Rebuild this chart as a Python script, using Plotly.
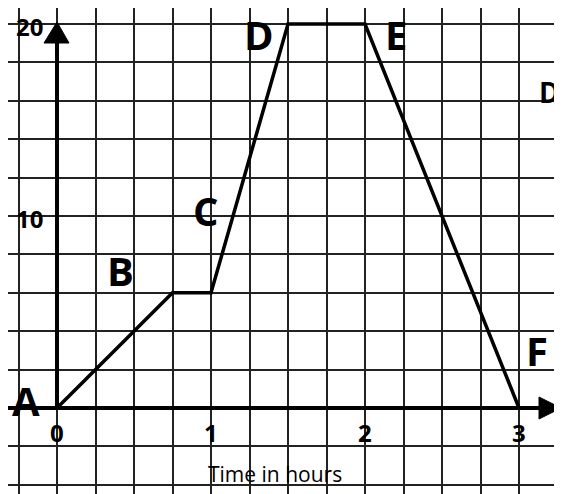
import plotly.graph_objects as go

# ---- data ----
time_h = [0, 0.75, 1, 1.5, 2, 3]
distance = [0, 6, 6, 20, 20, 0]
point_labels = ["A", "B", "C", "D", "E", "F"]
x_ticks = [0, 1, 2, 3]
x_tick_text = ["0", "1", "2", "3"]
y_ticks = [10, 20]
y_tick_text = ["10", "20"]
x_title = "Time in hours"

W, H = 562, 494          # page size
OFF = 8                  # default page body margin
FW, FH = W - OFF, H - OFF
# page-pixel mapping of the drawing (x=0 at px 57, 154 px per hour; y=0 at py 408, 19.2 px per unit)
PX0, PXS = 57, 154.0
PY0, PYS = 408, 19.2
def dx(px):
    return (px - PX0) / PXS
def dy(py):
    return (PY0 - py) / PYS

xr = [dx(OFF), dx(OFF + FW)]
yr = [dy(OFF + FH), dy(OFF)]

LBL = dict(family="Open Sans, DejaVu Sans, sans-serif", color="black", weight="bold")

fig = go.Figure()
fig.add_trace(go.Scatter(x=time_h, y=distance, mode="lines",
                         line=dict(color="black", width=3.5), hoverinfo="skip",
                         showlegend=False))

shapes = []
# axes lines
shapes.append(dict(type="line", xref="x", yref="y", x0=xr[0], x1=dx(541), y0=0, y1=0,
                   line=dict(color="black", width=4)))
shapes.append(dict(type="line", xref="x", yref="y", x0=0, x1=0, y0=0, y1=dy(41),
                   line=dict(color="black", width=4)))
# arrowheads
shapes.append(dict(type="path", xref="x", yref="y",
                   path=f"M {dx(539)},{dy(397)} L {dx(561)},{dy(408)} L {dx(539)},{dy(419)} Z",
                   fillcolor="black", line=dict(color="black", width=1)))
shapes.append(dict(type="path", xref="x", yref="y",
                   path=f"M {dx(44)},{dy(43)} L {dx(57)},{dy(22)} L {dx(69)},{dy(43)} Z",
                   fillcolor="black", line=dict(color="black", width=1)))

annotations = []
offsets = [(-31, 8), (-52, 22), (-5, 82), (-29, -10), (31, -10), (18, 58)]
for xv, yv, t, (sx, sy) in zip(time_h, distance, point_labels, offsets):
    annotations.append(dict(x=xv, y=yv, xref="x", yref="y", text=t, showarrow=False,
                            xshift=sx, yshift=sy, font=dict(size=40, **LBL)))
for xv, t in zip(x_ticks, x_tick_text):
    annotations.append(dict(x=xv, y=0, xref="x", yref="y", text=t, showarrow=False,
                            yshift=-24, font=dict(size=24, **LBL)))
for yv, t in zip(y_ticks, y_tick_text):
    annotations.append(dict(x=0, y=yv, xref="x", yref="y", text=t, showarrow=False,
                            xshift=-28, yshift=-2, font=dict(size=24, **LBL)))
annotations.append(dict(x=dx(275), y=dy(474), xref="x", yref="y", text=x_title,
                        showarrow=False, font=dict(size=21, family="Open Sans, sans-serif",
                                                   color="black")))
annotations.append(dict(x=dx(549), y=dy(92), xref="x", yref="y", text="D",
                        showarrow=False, font=dict(size=28, **LBL)))

fig.update_layout(
    width=FW, height=FH, margin=dict(l=0, r=0, t=0, b=0),
    paper_bgcolor="white", plot_bgcolor="white",
    xaxis=dict(range=xr, tick0=0, dtick=0.25, showgrid=True, gridcolor="#222",
               gridwidth=2, zeroline=False, showticklabels=False, ticks=""),
    yaxis=dict(range=yr, tick0=0, dtick=2, showgrid=True, gridcolor="#222",
               gridwidth=2, zeroline=False, showticklabels=False, ticks=""),
    shapes=shapes, annotations=annotations,
)
fig.write_html("out.html")
